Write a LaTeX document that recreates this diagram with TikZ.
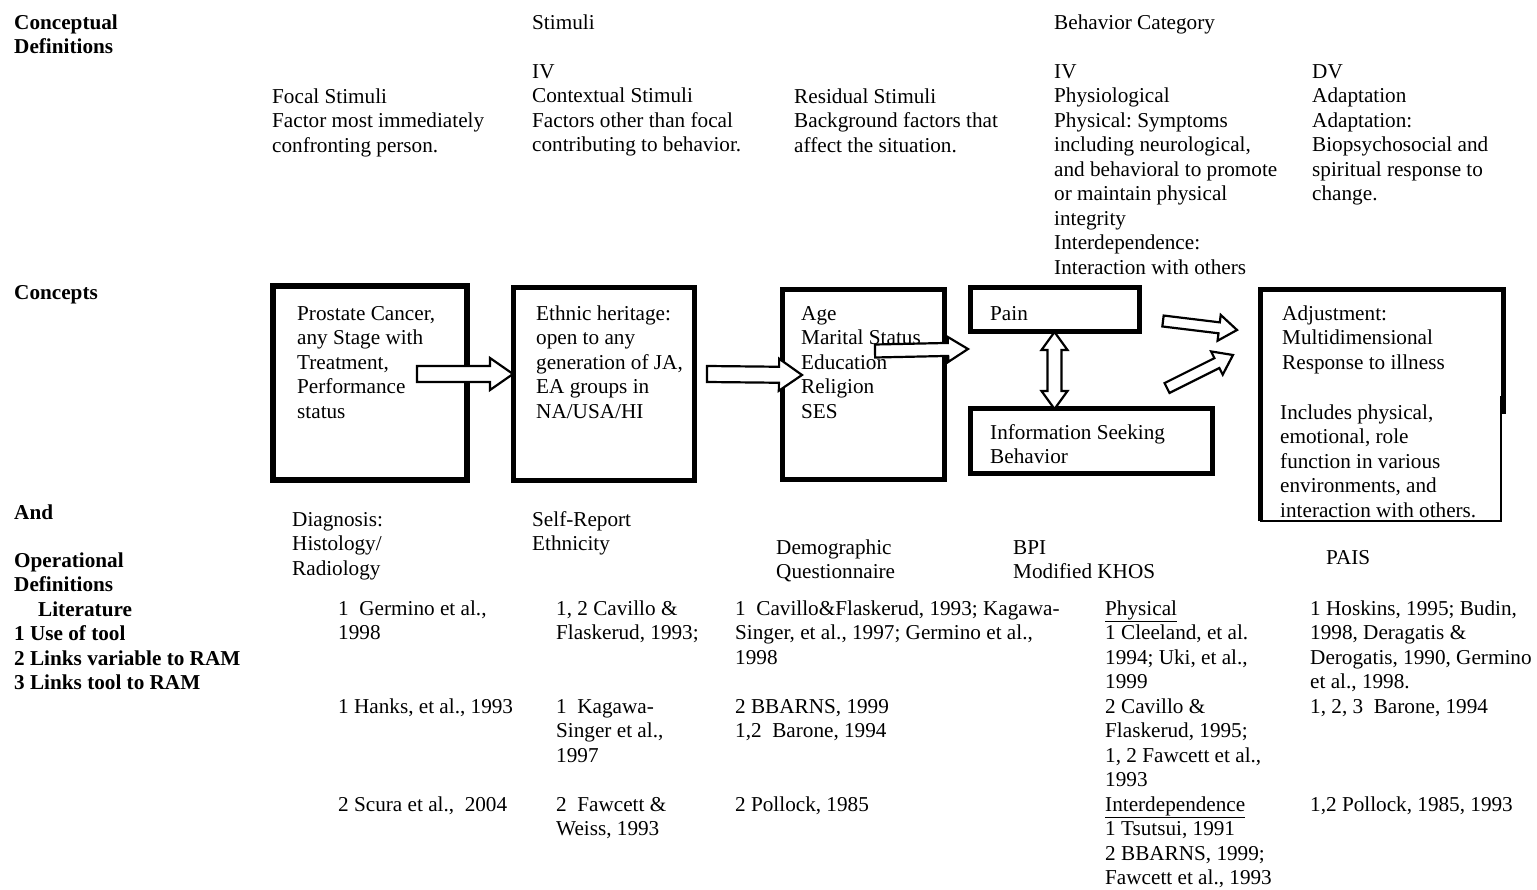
\documentclass[tikz,border=0pt]{standalone}
\usepackage{fontspec}
\setmainfont{Liberation Serif}
\usetikzlibrary{calc}
\newcommand\diagfont{\fontsize{21.2}{24.5}\selectfont}
\frenchspacing

\begin{document}
\begin{tikzpicture}[x=1pt,y=-1pt,
    txt/.style={anchor=north west,yshift=17.15pt,inner sep=0pt,align=left,font=\diagfont},
    rowlabel/.style={txt,font=\diagfont\bfseries},
    cbox/.style={draw,line width=5pt,inner sep=0pt,outer sep=0pt},
    ashaft/.store in=\ashaft, ahead/.store in=\ahead, alen/.store in=\alen,
    ashaft=7, ahead=15, alen=22,
    blockarrow/.style={draw,fill=white,line width=2.2pt,
      to path={let \p1=($(\tikztotarget)-(\tikztostart)$),
        \n1={atan2(\y1,\x1)}, \n2={veclen(\x1,\y1)} in
        {[shift={(\tikztostart)},rotate=\n1]
        (0,-\ashaft) -- ({\n2-\alen},-\ashaft) -- ({\n2-\alen},-\ahead) -- (\n2,0)
        -- ({\n2-\alen},\ahead) -- ({\n2-\alen},\ashaft) -- (0,\ashaft) -- cycle}}},
    dblockarrow/.style={draw,fill=white,line width=2.2pt,
      to path={let \p1=($(\tikztotarget)-(\tikztostart)$),
        \n1={atan2(\y1,\x1)}, \n2={veclen(\x1,\y1)} in
        {[shift={(\tikztostart)},rotate=\n1]
        (0,0) -- (\alen,\ahead) -- (\alen,\ashaft) -- ({\n2-\alen},\ashaft)
        -- ({\n2-\alen},\ahead) -- (\n2,0) -- ({\n2-\alen},-\ahead)
        -- ({\n2-\alen},-\ashaft) -- (\alen,-\ashaft) -- (\alen,-\ahead) -- cycle}}}]

  \fill[white] (0,0) rectangle (1537,890);
  \useasboundingbox (0,0) rectangle (1537,890);

  % row labels
  \node[rowlabel] (conceptlbl) at (14,29) {\strut Conceptual\\Definitions};
  \node[rowlabel] (conceptslbl) at (14,299) {\strut Concepts};
  \node[rowlabel] (andlbl) at (14,519) {\strut And};
  \node[rowlabel] (opdeflbl) at (14,567) {\strut Operational\\Definitions\\\hspace*{24pt}Literature\\1 Use of tool\\2 Links variable to RAM\\3 Links tool to RAM};

  % conceptual definitions
  \node[txt] (stimulihead) at (532,29) {\strut Stimuli};
  \node[txt] (behaviorhead) at (1054,29) {\strut Behavior Category};
  \node[txt] (focaldef) at (272,103) {\strut Focal Stimuli\\Factor most immediately\\confronting person.};
  \node[txt] (contextdef) at (532,78) {\strut IV\\Contextual Stimuli\\Factors other than focal\\contributing to behavior.};
  \node[txt] (residualdef) at (794,103) {\strut Residual Stimuli\\Background factors that\\affect the situation.};
  \node[txt] (physiodef) at (1054,78) {\strut IV\\Physiological\\Physical: Symptoms\\including neurological,\\and behavioral to promote\\or maintain physical\\integrity\\Interdependence:\\Interaction with others};
  \node[txt] (adaptdef) at (1312,78) {\strut DV\\Adaptation\\Adaptation:\\Biopsychosocial and\\spiritual response to\\change.};

  % concepts
  \node[cbox,line width=6pt,minimum width=194,minimum height=194] (focal) at (370,383) {};
  \node[cbox,minimum width=181,minimum height=192] (ethnic) at (603.5,384) {};
  \node[cbox,minimum width=162,minimum height=189] (demo) at (863,384.5) {};
  \node[cbox,minimum width=169,minimum height=44] (pain) at (1054.5,310) {};
  \node[cbox,minimum width=242,minimum height=64] (info) at (1091,441) {};
  \node[cbox,minimum width=243,minimum height=122] (adjust) at (1381.5,351) {};
  \node[fill=white,inner sep=0pt,outer sep=0pt,minimum width=241,minimum height=125] (adjlow) at (1380.5,458.5) {};
  \draw[line width=2pt] (adjlow.north east) -- (adjlow.south east) -- (adjlow.south west);
  \draw[line width=5pt] (adjlow.south west) -- (adjlow.north west);

  \node[txt] (focaltxt) at (297,320) {\strut Prostate Cancer,\\any Stage with\\Treatment,\\Performance\\status};
  \node[txt] (ethnictxt) at (536,320) {\strut Ethnic heritage:\\open to any\\generation of JA,\\EA groups in\\NA/USA/HI};
  \node[txt] (demotxt) at (801,320) {\strut Age\\Marital Status\\Education\\Religion\\SES};
  \node[txt] (paintxt) at (990,320) {\strut Pain};
  \node[txt] (infotxt) at (990,439) {\strut Information Seeking\\Behavior};
  \node[txt] (adjtxt) at (1282,320) {\strut Adjustment:\\Multidimensional\\Response to illness};
  \node[txt] (adjmore) at (1280,419) {\strut Includes physical,\\emotional, role\\function in various\\environments, and\\interaction with others.};

  % block arrows
  \coordinate (a1s) at (417,374);
  \coordinate (a2s) at (707,374);
  \coordinate (a2e) at (802,375);
  \coordinate (a3s) at (875,351);
  \coordinate (a3e) at (968,349);
  \coordinate (a5s) at (1163,321);
  \coordinate (a5e) at (1237,330);
  \coordinate (a6s) at (1167,388);
  \coordinate (a6e) at (1233,355);
  \draw[blockarrow,ashaft=8,ahead=16,alen=23] (a1s) to (ethnic.west |- a1s);
  \draw[blockarrow,ashaft=8,ahead=16,alen=23] (a2s) to (a2e);
  \draw[blockarrow,ashaft=6.5,ahead=12.5,alen=20] (a3s) to (a3e);
  \draw[dblockarrow,ashaft=7,ahead=13,alen=18] (pain.south) to (pain.south |- info.north);
  \draw[blockarrow,ashaft=5.5,ahead=13,alen=18] (a5s) to (a5e);
  \draw[blockarrow,ashaft=5.5,ahead=13,alen=18] (a6s) to (a6e);

  % operational definitions
  \node[txt] (diagop) at (292,526) {\strut Diagnosis:\\Histology/\\Radiology};
  \node[txt] (selfop) at (532,526) {\strut Self-Report\\Ethnicity};
  \node[txt] (demoop) at (776,554) {\strut Demographic\\Questionnaire};
  \node[txt] (bpiop) at (1013,554) {\strut BPI\\Modified KHOS};
  \node[txt] (paisop) at (1326,564) {\strut PAIS};

  % literature
  \node[txt] (litfocala) at (338,615) {\strut 1\ \ Germino et al.,\\1998};
  \node[txt] (litfocalb) at (338,713) {\strut 1 Hanks, et al., 1993};
  \node[txt] (litfocalc) at (338,811) {\strut 2 Scura et al.,\ \ 2004};
  \node[txt] (litethnica) at (556,615) {\strut 1, 2 Cavillo \&\\Flaskerud, 1993;};
  \node[txt] (litethnicb) at (556,713) {\strut 1\ \ Kagawa-\\Singer et al.,\\1997};
  \node[txt] (litethnicc) at (556,811) {\strut 2\ \ Fawcett \&\\Weiss, 1993};
  \node[txt] (litdemoa) at (735,615) {\strut 1\ \ Cavillo\&Flaskerud, 1993; Kagawa-\\Singer, et al., 1997; Germino et al.,\\1998};
  \node[txt] (litdemob) at (735,713) {\strut 2 BBARNS, 1999\\1,2\ \ Barone, 1994};
  \node[txt] (litdemoc) at (735,811) {\strut 2 Pollock, 1985};
  \node[txt] (litbehav) at (1105,615) {\strut \underline{Physical}\\1 Cleeland, et al.\\1994; Uki, et al.,\\1999\\2 Cavillo \&\\Flaskerud, 1995;\\1, 2 Fawcett et al.,\\1993\\\underline{Interdependence}\\1 Tsutsui, 1991\\2 BBARNS, 1999;\\Fawcett et al., 1993};
  \node[txt] (litadapta) at (1310,615) {\strut 1 Hoskins, 1995; Budin,\\1998, Deragatis \&\\Derogatis, 1990, Germino\\et al., 1998.\\1, 2, 3\ \ Barone, 1994};
  \node[txt] (litadaptc) at (1310,811) {\strut 1,2 Pollock, 1985, 1993};
\end{tikzpicture}
\end{document}
